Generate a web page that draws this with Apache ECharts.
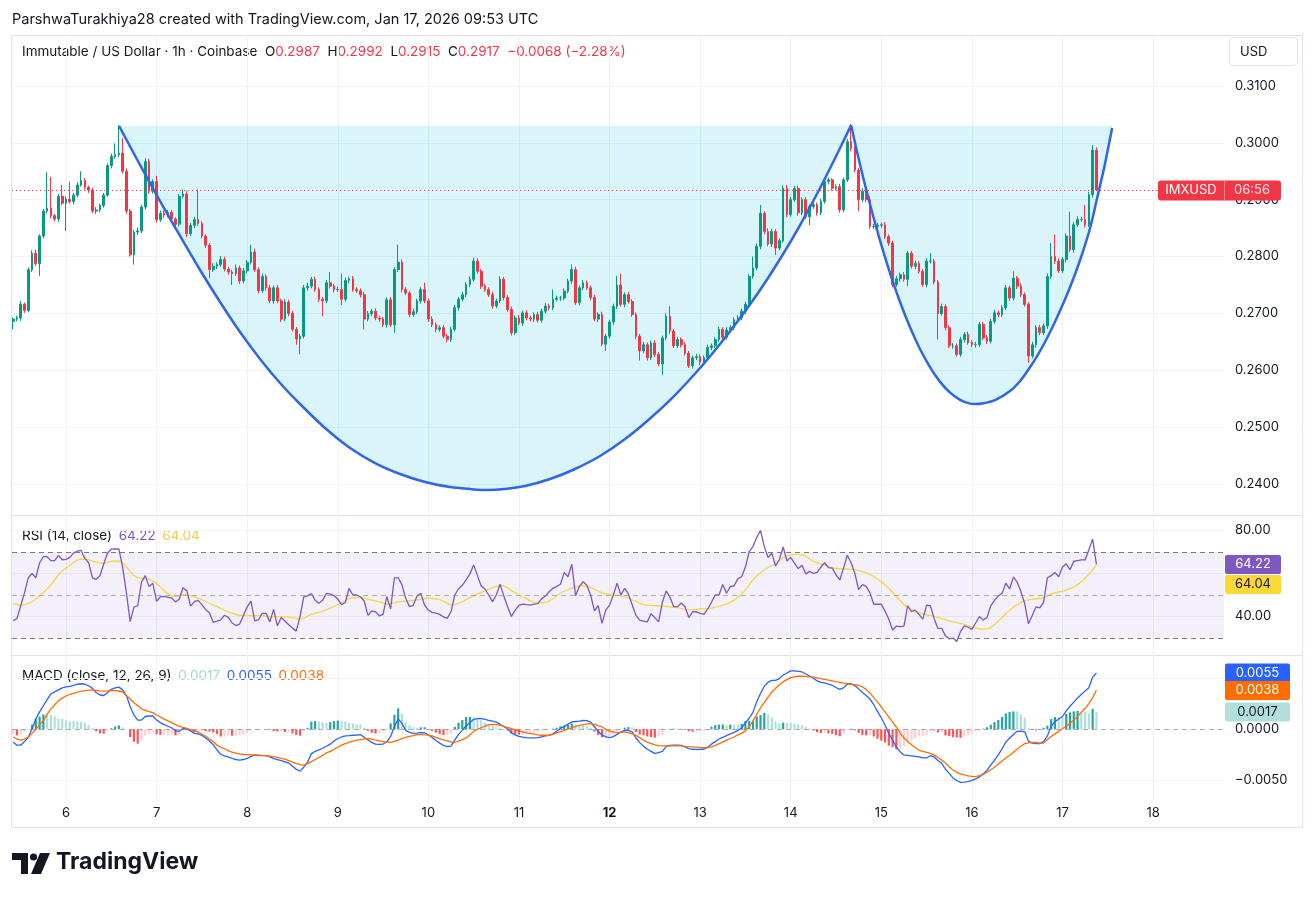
<!DOCTYPE html>
<html><head><meta charset="utf-8">
<script src="https://cdn.jsdelivr.net/npm/echarts@6/dist/echarts.min.js"></script>
<style>html,body{margin:0;padding:0;background:#fff}#c{width:1316px;height:899px}</style>
</head><body><div id="c"></div>
<script>
// ---------- DATA (hours relative to Jan 6 00:00 UTC; prices in 1e-4 USD) ----------
const firstHour = -14; // Jan 5 10:00 UTC, hourly candles
const dayTicks = [0,24,48,72,96,120,144,168,192,216,240,264,288];
const dayLabels = ['6','7','8','9','10','11','12','13','14','15','16','17','18'];
const priceTicks = [0.24,0.25,0.26,0.27,0.28,0.29,0.30,0.31];

const opens = [
2686,2690,2692,2716,2705,2777,2806,2788,2836,2880,2885,2872,2866,2906,
2894,2901,2897,2908,2926,2934,2922,2917,2880,2882,2890,2908,2960,2976,
2979,2982,2950,2880,2803,2843,2845,2887,2967,2915,2932,2865,2876,2873,
2878,2866,2857,2906,2910,2840,2855,2865,2858,2836,2820,2777,2783,2786,
2795,2778,2773,2770,2780,2757,2775,2790,2808,2777,2740,2765,2745,2722,
2745,2722,2690,2720,2700,2672,2655,2660,2745,2748,2760,2742,2725,2722,
2754,2748,2742,2742,2725,2758,2761,2742,2740,2733,2690,2700,2704,2692,
2690,2680,2724,2680,2777,2790,2742,2736,2698,2703,2722,2742,2722,2690,
2680,2672,2675,2660,2654,2672,2710,2725,2733,2751,2760,2792,2774,2748,
2742,2733,2713,2722,2760,2728,2707,2666,2692,2683,2701,2692,2690,2698,
2688,2704,2713,2710,2725,2727,2727,2739,2757,2777,2719,2745,2754,2745,
2728,2690,2698,2646,2660,2685,2712,2750,2716,2733,2721,2698,2660,2634,
2645,2622,2648,2628,2611,2657,2695,2669,2643,2654,2645,2630,2608,2622,
2624,2614,2622,2640,2643,2654,2672,2658,2671,2675,2689,2692,2704,2716,
2765,2780,2818,2876,2844,2822,2844,2815,2828,2920,2874,2900,2920,2877,
2900,2870,2888,2891,2877,2897,2932,2935,2920,2923,2882,2935,3002,2990,
2952,2900,2915,2900,2853,2853,2855,2856,2835,2824,2751,2761,2768,2760,
2806,2783,2788,2774,2751,2792,2792,2755,2700,2712,2675,2643,2643,2628,
2654,2663,2649,2645,2645,2681,2657,2651,2686,2701,2698,2710,2745,2727,
2762,2748,2733,2716,2625,2645,2675,2666,2678,2765,2800,2792,2775,2795,
2836,2812,2856,2865,2865,2856,2909,2987];
const closes = [
2690,2692,2716,2705,2777,2806,2788,2836,2880,2885,2872,2866,2906,2894,
2901,2897,2908,2926,2934,2922,2917,2880,2882,2890,2908,2960,2976,2979,
2982,2950,2880,2803,2843,2845,2887,2967,2915,2932,2865,2876,2873,2878,
2866,2857,2906,2910,2840,2855,2865,2858,2836,2820,2777,2783,2786,2795,
2778,2773,2770,2780,2757,2775,2790,2808,2777,2740,2765,2745,2722,2745,
2722,2690,2720,2700,2672,2655,2660,2745,2748,2760,2742,2725,2722,2754,
2748,2742,2742,2725,2758,2761,2742,2740,2733,2690,2700,2704,2692,2690,
2680,2724,2680,2777,2790,2742,2736,2698,2703,2722,2742,2722,2690,2680,
2672,2675,2660,2654,2672,2710,2725,2733,2751,2760,2792,2774,2748,2742,
2733,2713,2722,2760,2728,2707,2666,2692,2683,2701,2692,2690,2698,2688,
2704,2713,2710,2725,2727,2727,2739,2757,2777,2719,2745,2754,2745,2728,
2690,2698,2646,2660,2685,2712,2750,2716,2733,2721,2698,2660,2634,2645,
2622,2648,2628,2611,2657,2695,2669,2643,2654,2645,2630,2608,2622,2624,
2614,2622,2640,2643,2654,2672,2658,2671,2675,2689,2692,2704,2716,2765,
2780,2818,2876,2844,2822,2844,2815,2828,2920,2874,2900,2920,2877,2900,
2870,2888,2891,2877,2897,2932,2935,2920,2923,2882,2935,3002,2990,2952,
2900,2915,2900,2853,2853,2855,2856,2835,2824,2751,2761,2768,2760,2806,
2783,2788,2774,2751,2792,2792,2755,2700,2712,2675,2643,2643,2628,2654,
2663,2649,2645,2645,2681,2657,2651,2686,2701,2698,2710,2745,2727,2762,
2748,2733,2716,2625,2645,2675,2666,2678,2765,2800,2792,2775,2795,2836,
2812,2856,2865,2865,2856,2909,2987,2917];
// wick length above the body top / below the body bottom (1e-4 USD)
const upWick = [
3,4,6,3,4,5,6,3,4,63,55,3,4,20, 5,31,4,5,16,4,3,4,5,3,4,4,5,20,
49,26,5,4,4,6,4,6,5,4,10,5,5,4, 4,3,4,8,5,4,5,53,4,3,4,5,4,6,
5,4,4,6,4,5,4,13,6,4,5,4,5,4, 5,4,5,4,4,4,4,5,6,4,5,4,4,5,
19,4,5,28,5,4,5,4,4,5,4,4,5,4, 4,4,5,4,31,5,4,4,5,4,4,12,4,5,
4,4,5,4,4,5,4,5,4,5,6,5,4,4, 4,5,4,5,4,4,5,4,5,4,5,4,4,5,
4,5,4,17,4,4,5,4,9,5,4,5,4,4, 5,4,5,4,4,5,16,20,4,5,4,4,4,5,
4,4,5,4,4,5,18,4,5,4,5,4,4,5, 4,4,5,4,4,5,4,5,4,4,5,4,5,4,
20,5,15,4,6,5,4,4,5,6,5,4,5,4, 5,4,5,4,5,4,4,3,4,5,4,5,31,5,
4,5,4,6,5,4,4,5,4,4,5,4,5,4, 4,5,4,4,5,14,4,4,5,4,4,5,4,5,
4,5,4,5,4,4,5,4,5,4,4,5,4,12, 4,5,4,4,5,4,5,4,5,24,39,5,4,5,
43,5,6,5,26,5,9,5];
const downWick = [
14,4,5,4,3,4,5,22,4,4,5,4,5,4, 49,4,5,4,3,4,5,4,5,4,4,3,5,4,
4,4,5,3,17,5,4,4,5,4,5,4,5,4, 4,5,4,4,6,4,5,4,4,5,15,4,5,4,
4,5,20,4,5,4,5,4,4,5,4,5,4,5, 4,5,4,5,4,10,27,4,5,4,4,5,27,4,
4,5,4,10,4,5,4,4,5,18,4,5,4,5, 4,5,4,14,4,5,4,5,4,4,5,4,5,4,
5,4,4,5,4,4,5,4,4,5,4,4,5,4, 4,5,4,4,5,4,5,4,4,5,4,4,5,4,
4,4,5,4,4,5,4,4,5,4,5,4,4,5, 4,5,4,12,4,5,4,4,5,4,4,5,17,4,
5,4,5,4,19,4,5,4,4,5,4,4,5,4, 5,4,4,5,4,4,5,4,4,5,4,4,5,4,
4,4,5,5,4,5,12,4,4,5,4,4,5,4, 4,15,4,5,4,4,5,4,4,5,4,4,5,4,
20,4,5,4,4,5,4,4,5,5,4,5,4,12, 4,5,4,4,5,4,4,46,4,5,4,5,4,4,
5,4,4,5,4,4,5,4,4,5,4,4,5,4, 5,4,4,12,4,5,4,4,5,4,5,4,4,5,
4,5,4,4,5,4,5,2];

const rsiValues = [
38,39,45,51,58,60,58,65,67.8,67.8,66,66,68.4,66.4,
66.6,67.5,69.5,70.4,70.7,67,65,58,57.3,59,64.5,69.5,71.3,71.4,
71.4,63,51,37.6,44.4,45,56,59,53.9,55.4,47,49.2,49.2,49,
48.6,46.8,48,53.4,52,44.8,46.9,47.5,45.5,43.2,41.7,37.3,37.8,38.4,
40.6,39.6,37,35.8,36.5,40.5,44.5,47.2,38,38.5,41.5,41.5,37.5,43.3,
35.6,39.5,37.9,36.2,34.6,33.2,40,49.2,49.6,50.7,47.6,46.2,47.6,50.8,
50.4,49.8,48.1,45.5,46.5,53.1,50,50,49.2,47.2,40.5,42.6,42.2,40.3,
41,49.2,43.5,58,58,54.7,48.5,44.6,45.2,49.5,50.8,45.3,43,41.9,
41.6,41,39.8,39.1,42.2,50,52.9,54.5,57,59.8,64,59,54.2,52.8,
50,46.9,50,55,49.5,44.5,40,43,45.2,45.8,45.5,45.3,45.8,46,
48.2,49.5,51.5,53.1,54,55,60.5,58.5,64.3,49.7,53.9,56.2,54.5,50,
42.6,45,36.8,43,45.3,50,55.5,50,53.1,50.5,45.5,40.5,38.3,37.9,
37.5,41.3,39.5,37.5,46.6,51.9,49,44.6,44.6,46.3,44.5,39.5,42.2,42.2,
41.5,41,43.5,46.6,50,50,54.9,50.8,53.9,54.3,57.5,58.5,63,70.2,
72.5,76.8,80,72.5,67.4,69.5,63.5,66.5,72.3,65.8,67.5,64.8,62.3,63.8,
59.8,61,60,60.5,63,65,62.7,62.5,59.5,57,62.5,68.5,65,60,
52.5,54.8,54,51,45.7,45.7,45.7,42.5,38.7,33.7,35.5,35.3,35.5,45,
42.2,43,41,38.8,45.3,45,39,34.5,34.5,31,29.6,30,28.4,33,
35.6,35,34,37,40,38.4,39.5,45,47.5,49.5,50.8,55.5,52.8,58.3,
56,51.5,46,36.6,40.5,44.5,44,46.6,58,59,60.5,58.5,63,64.5,
61.8,65.7,66,66.3,66.3,71,76,64.22];
// RSI-based moving average, read at these hours
const maHours = [-14,-12,-9.2,-7.3,-4.4,-1.6,1.2,3.6,5.5,7.4,9.7,12.6,14.5,15.9,17.8,19.7,22,23.9,26.3,28.7,31.5,33.9,36.7,40,42.9,45.7,48.5,51.4,54.2,57,59.9,62.3,64.6,67.5,70.3,73.1,76,77.9,80.7,83.5,85.4,87.3,90.2,93,95.8,98.7,102.5,105.3,108.1,111,113.8,115.7,118.5,121.4,124.2,127.1,130.9,133.8,136.6,139.5,142.3,145.1,148,150.8,153.6,156.5,159.3,162.2,165,167.8,170.7,173.5,176.4,179.2,182,184.9,187.7,190.5,193.4,195.7,198.1,201,203.8,206.6,209.5,212.3,215.1,218,220.8,222.7,225.6,228.4,231.2,234.1,236.9,239.7,242.6,244.5,247.3,250.1,253,255.8,258.7,261.5,264.3,267.2,270,273];
const maValues = [46.1,45.3,46.6,49.2,53.9,60.1,64,66.6,66.6,65.5,64.7,65.8,65.5,63.2,59.3,57.8,57.4,55.4,51.6,49.2,50.3,49.2,47.2,44.6,42.2,40.7,40.4,40.4,39.9,39.9,39.5,38.8,40.7,42.2,44.1,46.6,48.8,48.8,47.7,46.6,45.7,46.6,47.2,47.7,48.5,48.1,45.3,47.2,49.7,51.9,53.9,54.3,51.6,48.8,46.6,46.6,50.8,53.1,54.3,53.1,50.8,50,49.2,47.2,45.3,45,44.6,44.1,43,43.5,43.8,45,46.9,50.8,57,61.6,64.3,67.8,68.9,68.3,65.5,64,62.4,62.1,61.6,60.1,57.4,53.1,47.7,44.6,41.9,40.7,39.5,37.9,36.8,35.3,34.2,34.5,38.4,43,46.6,48.1,48.5,50.8,51.9,53.9,57.8,64.04];

// MACD (12,26,9) and signal line, in 1e-4
const macdValues = [
-12.5,-15.5,-15.5,-12,-8,0.5,10,17,23,29,34.5,36.5,38.5,40.5,
41.5,42,43,44,44.5,44,42.5,40,36,33.5,33,36,39,40.5,
41.2,38.5,33,22,14,9,9,12.5,13,13,9,6.5,4.5,3,
1.5,-1.5,-2,0.7,0.3,-1.5,-4,-4.5,-6,-8.5,-11.5,-15,-20,-24.6,
-26,-27,-28.5,-29.5,-30,-29.5,-28.5,-26.5,-25.3,-25.6,-25.8,-25.8,-27,-28.6,
-29.6,-30.5,-31.7,-33,-36,-39,-40.8,-37,-32,-24,-21.5,-20,-18.5,-16.5,
-14.5,-11.5,-9,-7.5,-6.4,-6.2,-5.8,-5.6,-5.1,-7.8,-10.5,-12.8,-14.5,-14.8,
-14.4,-12,-7,2.5,10,6,-1,-3,-4,-3.8,-3.3,-3.5,-5.3,-8,
-11,-13.5,-15.8,-16.8,-16.5,-10.6,-5,-1,3.5,6.5,9.8,10.4,10.4,9.8,
8.8,8,7,5,2.5,0.5,-3.5,-5.5,-6.8,-7.7,-8.2,-8.4,-8.4,-8.2,
-7.4,-6.4,-5.9,-4.5,-2,0.8,2.8,5,7.3,7.6,8,8.6,8.5,7,
2.5,-2,-5.5,-7.5,-8.2,-7.2,-5,-2.8,-1,-1,-2.5,-8.5,-13,-16.5,
-19.5,-21.5,-23.5,-22.8,-21.5,-17,-15.8,-15.5,-15.5,-15.6,-17.3,-18.8,-19.5,-19.7,
-19.6,-19.5,-17.5,-14.5,-12,-9.5,-7.8,-6.2,-4.5,-3,-1,1.2,6.5,10.8,
16.5,27,35,42,46,47.7,47.7,49.5,53,55,57,57,56.5,56,
54,52,49.8,47.3,45.8,45.4,44,43,40.8,39,40.5,44,44.5,42.5,
39.5,36,33,29.5,24,17.5,11,4,-4,-10.5,-17.5,-22,-25,-25.5,
-26,-26.5,-27,-28,-28,-25.8,-27,-30.5,-33,-39,-43,-47.5,-50,-51.8,
-51.5,-51,-49.8,-48.5,-46.5,-43.5,-40,-35,-30,-25,-19,-12.5,-8.5,-5,
-2,-1.9,-2.5,-11.6,-13.5,-13.9,-13.9,-12,-6.5,3,7.5,10,12.5,18,
22.5,26.5,30.5,34,37.5,40.5,51,55];
const signalValues = [
-7.5,-9.5,-10.5,-9.5,-7.5,-4,0,4.5,8.5,14.5,20,24,28,30.5,
32.5,34,35,36.2,37,37.8,38.3,38.5,38,37.5,37.2,37.5,38,37.8,
37.4,36.5,33,29.5,26,23,20,18.5,17.3,16.3,14,12,10,8.3,
6.5,4.5,2.8,1.8,0.8,-0.5,-1.2,-2.8,-4.8,-6.8,-9.5,-12,-15.5,-17.5,
-19,-21,-22.3,-23.3,-24,-24.6,-24.7,-24.9,-25.1,-25.3,-25.5,-25.9,-26.3,-26.7,
-27.5,-28.4,-29.1,-30.5,-32,-33.5,-34.5,-35,-33.5,-31.5,-29.5,-27.5,-25.5,-23,
-21.5,-19.5,-17.5,-15.5,-14,-12.8,-11.6,-10.6,-10,-9.5,-9,-9.5,-10.5,-11.2,
-12,-12.4,-12.8,-11.8,-10.5,-9.2,-8,-7,-6.2,-5.1,-5.2,-5.5,-5.7,-6.5,
-7.8,-9,-10.3,-11.3,-12.3,-12.9,-11.5,-10,-8.4,-5.5,-2,0,1.5,3.2,
4.6,4.6,4.6,4,2.8,1.8,0.6,-0.5,-1.6,-2.6,-3.5,-4.2,-4.8,-5.5,
-5.8,-5.8,-5.8,-5,-3.5,-2.3,-1,0.3,1.5,2.8,3.8,4.5,5.3,5.5,
4.8,3.5,2.3,0,-1.9,-2.5,-3.2,-3,-2.6,-3.2,-4.5,-5.9,-8,-10.6,
-12.5,-14,-15.3,-15.9,-16.1,-16.1,-16.1,-16.1,-16.1,-16.2,-16.6,-16.9,-17.1,-17.4,
-17.8,-18,-17.8,-17.1,-16,-14,-12.5,-10.5,-9,-7.5,-5.5,-4,-1.5,2.5,
8,14.5,21,26,31.5,36.4,40,43.5,46.5,48.5,50.5,51.3,51.8,51.9,
51.6,51.2,50.9,50.2,49.4,48.7,48,47.3,46.5,45.8,45,44.5,44,43.5,
43,41.5,39,35.5,31,26.6,22,17,12,7,2,-3.5,-8.5,-12,
-15,-18,-20.5,-21.5,-22.5,-23.5,-25,-27.5,-30,-33,-36.5,-39.8,-42,-43.5,
-44.6,-45.5,-46,-46.3,-45.3,-44.2,-42,-39.5,-37,-34,-31,-28,-25.5,-22.5,
-19.5,-16.5,-14,-13.2,-12.9,-12.9,-13.5,-13.5,-10,-7,-4.5,-2,0.5,3,
6,9,12.5,16.5,20.5,25,31,38];

// Cup-pattern drawings
const cupTop = 0.3030;
const cup1Hours  = [14.04,19.61,24.91,30.21,35.51,40.81,46.10,51.40,56.70,62.00,68.63,75.25,81.88,88.50,95.13,101.75,107.05,111.55,116.32,121.62,128.25,134.87,141.49,148.12,154.74,161.37,167.99,173.29,178.59,183.89,189.19,194.49,199.79,205.09,208.0];
const cup1Prices = [0.3030,0.29611,0.28977,0.28362,0.27764,0.27201,0.26673,0.26199,0.25776,0.25407,0.24985,0.24633,0.24369,0.24176,0.24035,0.23947,0.23912,0.23894,0.23912,0.23965,0.24088,0.24264,0.24492,0.24791,0.25152,0.25565,0.26040,0.26462,0.26920,0.27412,0.27957,0.28555,0.29206,0.29910,0.3031];
const cup2Hours  = [208.0,210.39,213.04,215.69,218.34,220.99,223.64,226.29,228.94,231.58,234.23,236.88,239.00,240.86,242.71,246.16,250.13,252.78,254.90,257.29,259.94,262.85,266.03,268.68,271.33,273.19,275.04,277.16];
const cup2Prices = [0.3031,0.29611,0.28912,0.28277,0.27704,0.27196,0.26751,0.26369,0.26051,0.25796,0.25606,0.25479,0.25423,0.25407,0.25416,0.25477,0.25636,0.25812,0.26005,0.26251,0.26568,0.26972,0.27465,0.27940,0.28503,0.29030,0.29558,0.30261];

// ---------- BUILD ----------
const FONT = 'Inter, "Noto Sans", sans-serif';
const TXT = '#131722', GRID = '#f0f2f6';
const hours = closes.map((_, i) => firstHour + i);
const candleData = closes.map((c, i) => {
  const o = opens[i];
  return [hours[i], o / 1e4, c / 1e4, (Math.min(o, c) - downWick[i]) / 1e4, (Math.max(o, c) + upWick[i]) / 1e4];
});
const rsiData = rsiValues.map((v, i) => [hours[i], v]);
const maData = maHours.map((h, i) => [h, maValues[i]]);
const macdData = macdValues.map((v, i) => [hours[i], v / 1e4]);
const sigData = signalValues.map((v, i) => [hours[i], v / 1e4]);
const histVals = macdValues.map((v, i) => (v - signalValues[i]) / 1e4);
const histData = histVals.map((v, i) => {
  const prev = i > 0 ? histVals[i - 1] : v;
  let col;
  if (v >= 0) col = v > prev ? '#26a69a' : '#b2dfdb';
  else col = v < prev ? '#ff5252' : '#ffcdd2';
  return { value: [hours[i], v], itemStyle: { color: col } };
});
const last = closes.length - 1;
const cup1Data = cup1Hours.map((h, i) => [h, cup1Prices[i]]);
const cup2Data = cup2Hours.map((h, i) => [h, cup2Prices[i]]);

const X_MIN = -14.31, X_MAX = 306.8;
function xAxis(gi, showLabel) {
  return {
    type: 'value', gridIndex: gi, min: X_MIN, max: X_MAX,
    axisLine: { show: false }, axisTick: { show: false, customValues: dayTicks },
    splitLine: { show: true, lineStyle: { color: GRID, width: 1 } },
    axisLabel: {
      show: showLabel, customValues: dayTicks, margin: 7, fontSize: 13, color: TXT, fontFamily: FONT,
      formatter: v => { const d = dayLabels[dayTicks.indexOf(Math.round(v))]; return d === '12' ? '{b|12}' : d; },
      rich: { b: { fontWeight: 'bold', fontSize: 13, color: TXT, fontFamily: FONT } }
    }
  };
}
const axisLabelBase = { fontSize: 13, color: TXT, fontFamily: FONT, margin: 11 };
function cupFill(data) {
  return { type: 'line', xAxisIndex: 0, yAxisIndex: 0, z: 1, silent: true, symbol: 'none', smooth: 0.3,
    data: data, lineStyle: { width: 0, opacity: 0 },
    areaStyle: { origin: cupTop, color: 'rgba(0,188,212,0.15)', opacity: 1 } };
}
function cupLine(data) {
  return { type: 'line', xAxisIndex: 0, yAxisIndex: 0, z: 3, silent: true, symbol: 'none', smooth: 0.3,
    data: data, lineStyle: { color: '#2f66e8', width: 2.5 } };
}

const option = {
  animation: false,
  backgroundColor: '#ffffff',
  textStyle: { fontFamily: FONT },
  grid: [
    { left: 12, right: 92, top: 35, height: 480 },
    { left: 12, right: 92, top: 515, height: 140 },
    { left: 12, right: 92, top: 655, height: 145 }
  ],
  xAxis: [xAxis(0, false), xAxis(1, false), xAxis(2, true)],
  yAxis: [
    { type: 'value', gridIndex: 0, position: 'right', min: 0.234548, max: 0.318970,
      axisLine: { show: false }, axisTick: { show: false, customValues: priceTicks },
      splitLine: { show: true, lineStyle: { color: GRID } },
      axisLabel: Object.assign({ customValues: priceTicks, formatter: v => v.toFixed(4) }, axisLabelBase) },
    { type: 'value', gridIndex: 1, position: 'right', min: 22.1, max: 87.2,
      axisLine: { show: false }, axisTick: { show: false, customValues: [40, 60, 80] },
      splitLine: { show: true, lineStyle: { color: GRID } },
      axisLabel: Object.assign({ customValues: [40, 80], formatter: v => v.toFixed(2) }, axisLabelBase) },
    { type: 'value', gridIndex: 2, position: 'right', min: -0.006904, max: 0.007256,
      axisLine: { show: false }, axisTick: { show: false, customValues: [-0.005, 0.005] },
      splitLine: { show: true, lineStyle: { color: GRID } },
      axisLabel: Object.assign({ customValues: [-0.005, 0], formatter: v => (v < -1e-9 ? '\u2212' : '') + Math.abs(v).toFixed(4) }, axisLabelBase) }
  ],
  series: [
    cupFill(cup1Data),
    cupFill(cup2Data),
    { type: 'candlestick', xAxisIndex: 0, yAxisIndex: 0, z: 2, barWidth: 2.2, data: candleData,
      itemStyle: { color: '#089981', color0: '#f23645', borderColor: '#089981', borderColor0: '#f23645', borderWidth: 1 } },
    cupLine(cup1Data),
    cupLine(cup2Data),
    { type: 'custom', xAxisIndex: 0, yAxisIndex: 0, z: 10, silent: true, clip: false,
      data: [[hours[last], closes[last] / 1e4]],
      renderItem: (params, api) => {
        const p = api.coord([api.value(0), api.value(1)]);
        const cs = params.coordSys, right = cs.x + cs.width, y = Math.round(p[1]) + 0.5;
        return { type: 'group', children: [
          { type: 'line', shape: { x1: cs.x, y1: y, x2: right, y2: y }, style: { stroke: '#f23645', lineWidth: 1, lineDash: [1, 3] } },
          { type: 'rect', shape: { x: right - 66, y: y - 10, width: 123, height: 20, r: 3 }, style: { fill: '#f23645' } },
          { type: 'line', shape: { x1: right + 0.5, y1: y - 10, x2: right + 0.5, y2: y + 10 }, style: { stroke: '#ff8a95', lineWidth: 1 } },
          { type: 'text', style: { text: 'IMXUSD', x: right - 33, y: y, align: 'center', verticalAlign: 'middle', fill: '#ffffff', fontSize: 13, fontFamily: FONT } },
          { type: 'text', style: { text: '06:56', x: right + 28, y: y, align: 'center', verticalAlign: 'middle', fill: '#ffe3e6', fontSize: 13, fontFamily: FONT } }
        ] };
      } },
    { type: 'line', xAxisIndex: 1, yAxisIndex: 1, z: 3, symbol: 'none', data: rsiData,
      lineStyle: { color: '#7e57c2', width: 1.3 },
      markArea: { silent: true, itemStyle: { color: 'rgba(126,87,194,0.09)' }, data: [[{ yAxis: 30 }, { yAxis: 70 }]] },
      markLine: { silent: true, symbol: ['none', 'none'], label: { show: false },
        lineStyle: { color: '#787b86', type: [5, 4], width: 1 },
        data: [{ yAxis: 70 }, { yAxis: 50, lineStyle: { color: 'rgba(120,123,134,0.55)', type: [5, 4], width: 1 } }, { yAxis: 30 }] } },
    { type: 'line', xAxisIndex: 1, yAxisIndex: 1, z: 2, symbol: 'none', smooth: 0.3, data: maData,
      lineStyle: { color: '#f7d54a', width: 1.3 } },
    { type: 'custom', xAxisIndex: 1, yAxisIndex: 1, z: 10, silent: true, clip: false,
      data: [[hours[last], rsiValues[last], maValues[maValues.length - 1]]],
      renderItem: (params, api) => {
        const p = api.coord([api.value(0), api.value(1)]);
        const cs = params.coordSys, right = cs.x + cs.width, c = p[1];
        return { type: 'group', children: [
          { type: 'rect', shape: { x: right + 1, y: c - 9.5, width: 56, height: 19, r: 2 }, style: { fill: '#7e57c2' } },
          { type: 'text', style: { text: api.value(1).toFixed(2), x: right + 29, y: c, align: 'center', verticalAlign: 'middle', fill: '#ffffff', fontSize: 13, fontFamily: FONT } },
          { type: 'rect', shape: { x: right + 1, y: c + 10.5, width: 56, height: 19, r: 2 }, style: { fill: '#fdd835' } },
          { type: 'text', style: { text: api.value(2).toFixed(2), x: right + 29, y: c + 20, align: 'center', verticalAlign: 'middle', fill: TXT, fontSize: 13, fontFamily: FONT } }
        ] };
      } },
    { type: 'bar', xAxisIndex: 2, yAxisIndex: 2, z: 2, barWidth: 2.2, data: histData,
      markLine: { silent: true, symbol: ['none', 'none'], label: { show: false },
        lineStyle: { color: 'rgba(120,123,134,0.6)', type: [5, 4], width: 1 }, data: [{ yAxis: 0 }] } },
    { type: 'line', xAxisIndex: 2, yAxisIndex: 2, z: 3, symbol: 'none', data: macdData,
      lineStyle: { color: '#2962ff', width: 1.3 } },
    { type: 'line', xAxisIndex: 2, yAxisIndex: 2, z: 3, symbol: 'none', data: sigData,
      lineStyle: { color: '#ff6d00', width: 1.3 } },
    { type: 'custom', xAxisIndex: 2, yAxisIndex: 2, z: 10, silent: true, clip: false,
      data: [[hours[last], macdValues[last] / 1e4, signalValues[last] / 1e4, histVals[last]]],
      renderItem: (params, api) => {
        const cs = params.coordSys, right = cs.x + cs.width;
        const boxes = [[1, '#2962ff', '#ffffff'], [2, '#ff6d00', '#ffffff'], [3, '#b2dfdb', TXT]];
        const kids = [];
        boxes.forEach(b => {
          const v = api.value(b[0]);
          const c = api.coord([api.value(0), v])[1];
          kids.push({ type: 'rect', shape: { x: right + 1, y: c - 9.5, width: 65, height: 19, r: 2 }, style: { fill: b[1] } });
          kids.push({ type: 'text', style: { text: v.toFixed(4), x: right + 33.5, y: c, align: 'center', verticalAlign: 'middle', fill: b[2], fontSize: 13, fontFamily: FONT } });
        });
        return { type: 'group', children: kids };
      } }
  ],
  graphic: [
    { type: 'rect', silent: true, shape: { x: 11.5, y: 35.5, width: 1291, height: 792 }, style: { fill: 'none', stroke: '#e0e3eb', lineWidth: 1 } },
    { type: 'line', silent: true, shape: { x1: 12, y1: 515.5, x2: 1303, y2: 515.5 }, style: { stroke: '#e0e3eb', lineWidth: 1 } },
    { type: 'line', silent: true, shape: { x1: 12, y1: 655.5, x2: 1303, y2: 655.5 }, style: { stroke: '#e0e3eb', lineWidth: 1 } },
    { type: 'text', left: 12, top: 12, silent: true,
      style: { text: 'ParshwaTurakhiya28 created with TradingView.com, Jan 17, 2026 09:53 UTC', fill: TXT, fontSize: 14.5, fontFamily: FONT } },
    { type: 'text', left: 22, top: 45, silent: true,
      style: { text: '{k|Immutable / US Dollar \u00b7 1h \u00b7 Coinbase  O}{r|0.2987}{k|  H}{r|0.2992}{k|  L}{r|0.2915}{k|  C}{r|0.2917}{r|  \u22120.0068 (\u22122.28%)}',
        rich: { k: { fill: TXT, fontSize: 13.5, fontFamily: FONT }, r: { fill: '#f23645', fontSize: 13.5, fontFamily: FONT } } } },
    { type: 'rect', silent: true, shape: { x: 1229.5, y: 37.5, width: 68, height: 28, r: 4 }, style: { fill: '#fff', stroke: '#e0e3eb', lineWidth: 1 } },
    { type: 'text', left: 1240, top: 46, silent: true, style: { text: 'USD', fill: TXT, fontSize: 13, fontFamily: FONT } },
    { type: 'text', left: 22, top: 529, silent: true,
      style: { text: '{k|RSI (14, close)}  {p|64.22}  {y|64.04}',
        rich: { k: { fill: TXT, fontSize: 13.5, fontFamily: FONT }, p: { fill: '#7e57c2', fontSize: 13.5, fontFamily: FONT }, y: { fill: '#f2c94c', fontSize: 13.5, fontFamily: FONT } } } },
    { type: 'text', left: 22, top: 669, silent: true,
      style: { text: '{k|MACD (close, 12, 26, 9)}  {t|0.0017}  {b|0.0055}  {o|0.0038}',
        rich: { k: { fill: TXT, fontSize: 13.5, fontFamily: FONT }, t: { fill: '#a3d8d2', fontSize: 13.5, fontFamily: FONT }, b: { fill: '#2962ff', fontSize: 13.5, fontFamily: FONT }, o: { fill: '#ff6d00', fontSize: 13.5, fontFamily: FONT } } } },
    { type: 'group', silent: true, children: [
      { type: 'polygon', shape: { points: [[12, 853], [28, 853], [28, 874], [21, 874], [21, 860], [12, 860]] }, style: { fill: TXT } },
      { type: 'circle', shape: { cx: 33.5, cy: 857, r: 3.6 }, style: { fill: TXT } },
      { type: 'polygon', shape: { points: [[40, 853], [50, 853], [41, 874], [31, 874]] }, style: { fill: TXT } }
    ] },
    { type: 'text', left: 56, top: 851, silent: true, style: { text: 'TradingView', fill: TXT, fontSize: 23, fontWeight: 'bold', fontFamily: FONT } }
  ]
};
const chart = echarts.init(document.getElementById('c'), null, { renderer: 'canvas', width: 1316, height: 899 });
chart.setOption(option);
</script>
</body></html>
